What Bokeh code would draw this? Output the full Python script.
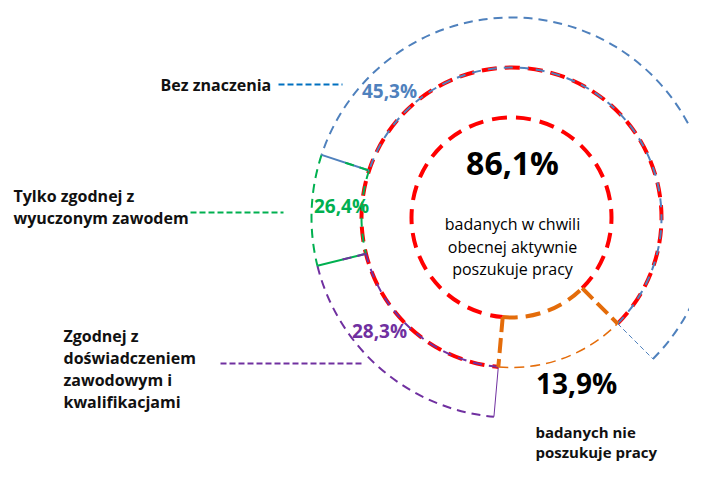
import numpy as np
from bokeh.plotting import figure
from bokeh.models import Range1d
from bokeh.core.properties import value
from bokeh.embed import file_html
from bokeh.resources import INLINE

# ---------------- data ----------------
inner_labels = ["86,1%", "13,9%"]
inner_values = [86.1, 13.9]                       # % of respondents (searching / not searching)
outer_names = ["Bez znaczenia", "Tylko zgodnej z\nwyuczonym zawodem",
               "Zgodnej z\ndoświadczeniem\nzawodowym i\nkwalifikacjami"]
outer_values = [45.3, 26.4, 28.3]                 # labels of the outer ring
outer_drawn_share = [66.7, 10.4, 22.9]            # share of the 86,1% arc each outer slice occupies as drawn
center_text = ["badanych w chwili", "obecnej aktywnie", "poszukuje pracy"]
side_text = ["badanych nie", "poszukuje pracy"]

# ---------------- styles ----------------
RED, ORANGE = "#FF0000", "#E46C0A"
OUTER_COLS = ["#4F81BD", "#00B050", "#7030A0"]
LEADER_COLS = ["#0070C0", "#00B050", "#7030A0"]
FONT = value("Open Sans")

W, H = 689, 461
p = figure(width=W, height=H, x_range=Range1d(0, W), y_range=Range1d(477 - H, 477),
           output_backend="svg", toolbar_location=None, min_border=0,
           x_axis_type=None, y_axis_type=None)
p.grid.visible = False
p.outline_line_color = None
p.background_fill_color = "white"

def Y(sy):
    return 477 - sy

cx, cy = 511, Y(217)
r0, r1, r2 = 100, 150, 200
start = -45.0

# inner ring angles
tot = sum(inner_values)
red_a0 = np.deg2rad(start)
red_a1 = np.deg2rad(start + inner_values[0] / tot * 360)
org_a0, org_a1 = red_a1, np.deg2rad(start + 360)

# outer ring angles (covering the red slice)
span = inner_values[0] / tot * 360
cum = np.cumsum([0] + outer_drawn_share) / sum(outer_drawn_share) * span + start
oa = np.deg2rad(cum)

# ---- red slice
p.arc(x=cx, y=cy, radius=r0, start_angle=red_a0, end_angle=red_a1,
      line_color=RED, line_width=4, line_dash="15 9")
p.arc(x=cx, y=cy, radius=r1, start_angle=red_a0, end_angle=red_a1,
      line_color=RED, line_width=4, line_dash="15 8")

# ---- outer ring
for i in range(3):
    a, b = oa[i], oa[i + 1]
    p.arc(x=cx, y=cy, radius=r2, start_angle=a, end_angle=b,
          line_color=OUTER_COLS[i], line_width=2, line_dash="9 6")
    p.arc(x=cx, y=cy, radius=r1, start_angle=a, end_angle=b,
          line_color=OUTER_COLS[i], line_width=2, line_dash="9 7")

# radial edges of outer ring
def seg(angle, ra, rb, **kw):
    p.segment(x0=cx + ra * np.cos(angle), y0=cy + ra * np.sin(angle),
              x1=cx + rb * np.cos(angle), y1=cy + rb * np.sin(angle), **kw)

seg(oa[0], r1, r2, line_color=OUTER_COLS[0], line_width=1, line_dash="5 3")
seg(oa[1], r1, r2, line_color=OUTER_COLS[0], line_width=2)
seg(oa[1], r1 + (r2 - r1) / 2, r1, line_color=OUTER_COLS[1], line_width=2, line_dash="9 6")
seg(oa[2], r1, r2, line_color=OUTER_COLS[1], line_width=2)
seg(oa[2], r1, r1 + (r2 - r1) / 2, line_color=OUTER_COLS[2], line_width=2, line_dash="9 6")
seg(oa[3], r1, r2, line_color=OUTER_COLS[2], line_width=1)

# ---- orange slice
p.arc(x=cx, y=cy, radius=r0, start_angle=org_a0, end_angle=org_a1,
      line_color=ORANGE, line_width=4, line_dash="15 8")
p.arc(x=cx, y=cy, radius=r1, start_angle=org_a0, end_angle=org_a1,
      line_color=ORANGE, line_width=1.5, line_dash="10 6")
seg(org_a0, r0, r1, line_color=ORANGE, line_width=4, line_dash="15 6")
seg(org_a1, r0, r1, line_color=ORANGE, line_width=4, line_dash="15 6")

# ---- leader lines
p.segment(x0=[278, 190, 220], y0=[Y(84), Y(212), Y(363)],
          x1=[342, 283, 362], y1=[Y(84), Y(212), Y(363)],
          line_color=LEADER_COLS, line_width=2, line_dash="6 3")

# ---- category labels
name_pos = [(160, 84), (13, 195), (63, 335)]
for (sx, sy), name in zip(name_pos, outer_names):
    lines = name.split("\n")
    p.text(x=[sx] * len(lines), y=[Y(sy + 22 * k) for k in range(len(lines))], text=lines,
           text_font=FONT, text_font_size="16px", text_font_style="bold",
           text_color="#111111", text_align="left", text_baseline="middle")

# ---- outer value labels
val_pos = [(389, 90), (341, 205), (379, 330)]
for (sx, sy), v, c in zip(val_pos, outer_values, OUTER_COLS):
    p.text(x=[sx], y=[Y(sy)], text=[f"{v:.1f}%".replace(".", ",")],
           text_font=FONT, text_font_size="19px", text_font_style="bold",
           text_color=c, text_align="center", text_baseline="middle")

# ---- center texts
p.text(x=[512], y=[Y(162)], text=[inner_labels[0]], text_font=FONT, text_font_size="32px",
       text_font_style="bold", text_color="black", text_align="center", text_baseline="middle")
p.text(x=[512] * 3, y=[Y(223), Y(246), Y(268)], text=center_text, text_font=FONT,
       text_font_size="16px", text_color="black", text_align="center", text_baseline="middle")

p.text(x=[576], y=[Y(382)], text=[inner_labels[1]], text_font=FONT, text_font_size="28px",
       text_font_style="bold", text_color="black", text_align="center", text_baseline="middle")
p.text(x=[535] * 2, y=[Y(431), Y(451)], text=side_text, text_font=FONT,
       text_font_size="15px", text_font_style="bold", text_color="#111111",
       text_align="left", text_baseline="middle")

open("out.html", "w").write(file_html(p, INLINE))
